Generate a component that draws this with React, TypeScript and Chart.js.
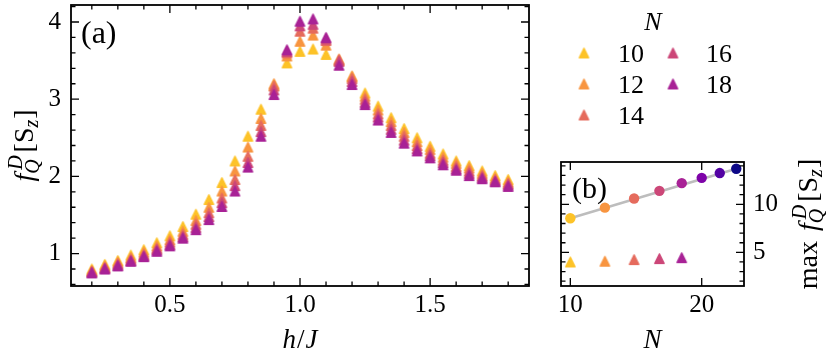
import React, { useEffect, useRef } from "react";
import { Chart, registerables } from "chart.js";
Chart.register(...registerables);

// ---------------- data ----------------
const hValues = [0.2, 0.25, 0.3, 0.35, 0.4, 0.45, 0.5, 0.55, 0.6, 0.65, 0.7, 0.75, 0.8, 0.85, 0.9, 0.95, 1.0, 1.05, 1.1, 1.15, 1.2, 1.25, 1.3, 1.35, 1.4, 1.45, 1.5, 1.55, 1.6, 1.65, 1.7, 1.75, 1.8];
const sizesN = [10, 12, 14, 16, 18];
const fqN10 = [0.80, 0.86, 0.91, 0.98, 1.05, 1.14, 1.23, 1.35, 1.51, 1.70, 1.92, 2.20, 2.52, 2.87, 3.18, 3.47, 3.62, 3.65, 3.58, 3.50, 3.29, 3.08, 2.91, 2.76, 2.62, 2.50, 2.39, 2.29, 2.20, 2.14, 2.07, 2.01, 1.96];
const fqN12 = [0.78, 0.84, 0.89, 0.95, 1.02, 1.10, 1.18, 1.29, 1.43, 1.60, 1.81, 2.07, 2.38, 2.75, 3.20, 3.56, 3.75, 3.83, 3.70, 3.52, 3.30, 3.04, 2.86, 2.71, 2.57, 2.45, 2.35, 2.25, 2.17, 2.11, 2.04, 1.98, 1.93];
const fqN14 = [0.77, 0.82, 0.87, 0.93, 0.99, 1.07, 1.15, 1.25, 1.38, 1.53, 1.72, 1.96, 2.26, 2.66, 3.17, 3.60, 3.88, 3.92, 3.76, 3.51, 3.27, 3.00, 2.81, 2.66, 2.52, 2.40, 2.30, 2.21, 2.13, 2.07, 2.01, 1.96, 1.91];
const fqN16 = [0.76, 0.81, 0.85, 0.91, 0.97, 1.05, 1.12, 1.22, 1.34, 1.48, 1.66, 1.88, 2.18, 2.58, 3.12, 3.62, 3.95, 3.97, 3.78, 3.49, 3.23, 2.96, 2.77, 2.61, 2.47, 2.36, 2.27, 2.18, 2.10, 2.04, 1.99, 1.94, 1.89];
const fqN18 = [0.75, 0.80, 0.84, 0.90, 0.96, 1.03, 1.10, 1.20, 1.31, 1.44, 1.61, 1.81, 2.12, 2.52, 3.06, 3.64, 4.01, 4.04, 3.80, 3.44, 3.19, 2.93, 2.73, 2.57, 2.43, 2.33, 2.24, 2.15, 2.08, 2.01, 1.97, 1.93, 1.87];
const seriesColors = ["#fdc328", "#f89540", "#e56b5d", "#cc4778", "#a82296"];

const insetN = [10, 12, 14, 16, 18, 20, 22, 24];
const insetMaxFQ = [8.55, 9.65, 10.6, 11.4, 12.2, 12.75, 13.25, 13.7];
const insetColors = ["#fdc328", "#f89540", "#e56b5d", "#cc4778", "#a82296", "#7e03a8", "#5302a3", "#0d0887"];
const insetTriN = [10, 12, 14, 16, 18];
const insetTriMax = [4.0, 4.08, 4.25, 4.35, 4.45];
const fitN = [10, 24];
const fitMax = [8.55, 13.7];

const mainXTicks = [0.5, 1.0, 1.5];
const mainYTicks = [1, 2, 3, 4];
const insetXTicks = [10, 20];
const insetYTicks = [5, 10];

// ---------------- helpers ----------------
const FAMILY = '"Liberation Serif"';
const FONT = '"Liberation Serif", "DejaVu Serif", serif';

function triangleImg(color: string) {
  const s = 13;
  const c = document.createElement("canvas");
  c.width = s;
  c.height = s;
  const g = c.getContext("2d")!;
  g.fillStyle = color;
  g.strokeStyle = color;
  g.lineJoin = "round";
  g.lineWidth = 1.4;
  const cx = s / 2, cy = s / 2, h = 4.7;
  g.beginPath();
  g.moveTo(cx, cy - h);
  g.lineTo(cx + h, cy + h);
  g.lineTo(cx - h, cy + h);
  g.closePath();
  g.fill();
  g.stroke();
  return c;
}

type Seg = { t: string; it?: boolean; size: number; dy?: number; dx?: number; overlay?: boolean };

function drawRich(ctx: CanvasRenderingContext2D, segs: Seg[], x: number, y: number, angle: number) {
  let xpos = 0, lastStart = 0, lastW = 0;
  const placed: { s: Seg; x: number }[] = [];
  for (const s of segs) {
    ctx.font = `${s.it ? "italic " : ""}${s.size}px ${FONT}`;
    const w = ctx.measureText(s.t).width;
    if (s.overlay) {
      const st = lastStart + (s.dx || 0);
      placed.push({ s, x: st });
      xpos = Math.max(lastStart + lastW, st + w);
      lastW = Math.max(lastW, st + w - lastStart);
    } else {
      const st = xpos + (s.dx || 0);
      placed.push({ s, x: st });
      lastStart = st;
      lastW = w;
      xpos = st + w;
    }
  }
  ctx.save();
  ctx.translate(x, y);
  ctx.rotate(angle);
  ctx.fillStyle = "#000";
  ctx.textBaseline = "alphabetic";
  ctx.textAlign = "left";
  for (const p of placed) {
    ctx.font = `${p.s.it ? "italic " : ""}${p.s.size}px ${FONT}`;
    ctx.fillText(p.s.t, p.x - xpos / 2, p.s.dy || 0);
  }
  ctx.restore();
}

const fqSegs: Seg[] = [
  { t: "f", it: true, size: 28 },
  { t: "Q", it: true, size: 20, dy: 6, dx: 0 },
  { t: "D", it: true, size: 20, dy: -11, dx: 4, overlay: true },
  { t: "[", size: 28, dx: 3 },
  { t: "S", size: 28 },
  { t: "z", it: true, size: 20, dy: 5 },
  { t: "]", size: 28, dx: 1 },
];

function drawTicks(ctx: CanvasRenderingContext2D, a: any, sx: any, sy: any, xMaj: number[], xMin: number[], yMaj: number[], yMin: number[], maj: number, mn: number) {
  ctx.save();
  ctx.strokeStyle = "#000";
  ctx.lineWidth = 1.3;
  ctx.beginPath();
  const xt = (v: number, L: number) => {
    const p = sx.getPixelForValue(v);
    if (p < a.left + 1 || p > a.right - 1) return;
    ctx.moveTo(p, a.bottom); ctx.lineTo(p, a.bottom - L);
    ctx.moveTo(p, a.top); ctx.lineTo(p, a.top + L);
  };
  const yt = (v: number, L: number) => {
    const p = sy.getPixelForValue(v);
    if (p < a.top + 1 || p > a.bottom - 1) return;
    ctx.moveTo(a.left, p); ctx.lineTo(a.left + L, p);
    ctx.moveTo(a.right, p); ctx.lineTo(a.right - L, p);
  };
  xMaj.forEach((v) => xt(v, maj));
  xMin.forEach((v) => xt(v, mn));
  yMaj.forEach((v) => yt(v, maj));
  yMin.forEach((v) => yt(v, mn));
  ctx.stroke();
  ctx.lineWidth = 1.8;
  ctx.strokeRect(a.left, a.top, a.right - a.left, a.bottom - a.top);
  ctx.restore();
}

function range(a: number, b: number, step: number) {
  const out: number[] = [];
  for (let v = a; v <= b + 1e-9; v += step) out.push(Math.round(v * 1000) / 1000);
  return out;
}

const tickFont = { family: FONT, size: 25 };
const noGrid = { display: false, drawTicks: false, tickLength: 0 };
const zeroPad = (s: any) => {
  s.paddingTop = 0;
  s.paddingBottom = 0;
  s.paddingLeft = 0;
  s.paddingRight = 0;
};

export default function App() {
  const mainRef = useRef<HTMLCanvasElement>(null);
  const insetRef = useRef<HTMLCanvasElement>(null);

  useEffect(() => {
    const series = [fqN10, fqN12, fqN14, fqN16, fqN18];
    const triImgs = seriesColors.map((c) => triangleImg(c));
    const insetTriImgs = insetTriN.map((_, i) => triangleImg(seriesColors[i]));

    const mainPlugin = {
      id: "mainDeco",
      afterDraw(chart: any) {
        const ctx = chart.ctx as CanvasRenderingContext2D;
        const a = chart.chartArea;
        const sx = chart.scales.x, sy = chart.scales.y;
        drawTicks(ctx, a, sx, sy, mainXTicks, range(0.2, 1.8, 0.1), mainYTicks, range(0.6, 4.2, 0.2), 8, 4.5);
        ctx.save();
        ctx.fillStyle = "#000";
        ctx.font = `32px ${FONT}`;
        ctx.textAlign = "left";
        ctx.fillText("(a)", 81, 43);
        ctx.restore();
        drawRich(ctx, [
          { t: "h", it: true, size: 27 },
          { t: "/", size: 27, dx: 1 },
          { t: "J", it: true, size: 27, dx: 1 },
        ], (a.left + a.right) / 2, 348, 0);
        drawRich(ctx, fqSegs, 33, (a.top + a.bottom) / 2, -Math.PI / 2);
        // legend
        ctx.save();
        ctx.fillStyle = "#000";
        ctx.font = `italic 26px ${FONT}`;
        ctx.textAlign = "center";
        ctx.fillText("N", 653, 30);
        const colX = [584, 673];
        const textX = [618, 706];
        const rowY = [53, 84, 115];
        sizesN.forEach((n, i) => {
          const col = i < 3 ? 0 : 1;
          const row = i < 3 ? i : i - 3;
          const img = triImgs[i];
          ctx.drawImage(img, colX[col] - img.width / 2, rowY[row] - img.height / 2);
          ctx.font = `26px ${FONT}`;
          ctx.textAlign = "left";
          ctx.fillStyle = "#000";
          ctx.fillText(String(n), textX[col], rowY[row] + 9);
        });
        ctx.restore();
      },
    };

    const mainChart = new Chart(mainRef.current!, {
      type: "scatter",
      data: {
        datasets: series.map((s, i) => ({
          label: `N=${sizesN[i]}`,
          data: hValues.map((h, j) => ({ x: h, y: s[j] })),
          pointStyle: triImgs[i] as any,
          pointRadius: 5,
          backgroundColor: seriesColors[i],
          borderColor: seriesColors[i],
          order: sizesN.length - i,
        })),
      },
      options: {
        responsive: false,
        animation: false,
        devicePixelRatio: 1,
        layout: { autoPadding: false, padding: { left: 0, top: 5, right: 301, bottom: 0 } },
        plugins: { legend: { display: false }, tooltip: { enabled: false } },
        scales: {
          x: {
            type: "linear",
            min: 0.12,
            max: 1.88,
            afterBuildTicks: (s: any) => { s.ticks = mainXTicks.map((v) => ({ value: v })); },
            afterFit: (s: any) => { s.height = 72; zeroPad(s); },
            ticks: {
              callback: (v: any) => Number(v).toFixed(1),
              font: tickFont,
              color: "#000",
              padding: 4,
              maxRotation: 0,
            },
            grid: noGrid,
            border: { display: false },
          },
          y: {
            type: "linear",
            min: 0.58,
            max: 4.22,
            afterBuildTicks: (s: any) => { s.ticks = mainYTicks.map((v) => ({ value: v })); },
            afterFit: (s: any) => { s.width = 71; zeroPad(s); },
            ticks: {
              callback: (v: any) => String(v),
              font: tickFont,
              color: "#000",
              padding: 10,
            },
            grid: noGrid,
            border: { display: false },
          },
        },
      },
      plugins: [mainPlugin],
    });

    const insetPlugin = {
      id: "insetDeco",
      afterDraw(chart: any) {
        const ctx = chart.ctx as CanvasRenderingContext2D;
        const a = chart.chartArea;
        drawTicks(ctx, a, chart.scales.x, chart.scales.y, insetXTicks, [], insetYTicks, range(2, 14, 1), 8, 4.5);
        ctx.save();
        ctx.fillStyle = "#000";
        ctx.font = `30px ${FONT}`;
        ctx.textAlign = "left";
        ctx.fillText("(b)", 27, 48);
        ctx.restore();
        drawRich(ctx, [{ t: "N", it: true, size: 27 }], (a.left + a.right) / 2, 198, 0);
        drawRich(ctx, [{ t: "max ", size: 28 }, ...fqSegs.map((s, i) => (i === 0 ? { ...s, dx: 3 } : s))], 272, 74, -Math.PI / 2);
      },
    };

    const insetChart = new Chart(insetRef.current!, {
      type: "scatter",
      data: {
        datasets: [
          {
            label: "maxFQ",
            data: insetN.map((n, i) => ({ x: n, y: insetMaxFQ[i] })),
            pointStyle: "circle",
            pointRadius: 5.2,
            borderWidth: 0,
            backgroundColor: insetColors,
            order: 1,
          } as any,
          {
            label: "triangles",
            data: insetTriN.map((n, i) => ({ x: n, y: insetTriMax[i] })),
            pointStyle: insetTriImgs as any,
            pointRadius: 5,
            order: 1,
          } as any,
          {
            type: "line",
            label: "fit",
            data: fitN.map((n, i) => ({ x: n, y: fitMax[i] })),
            borderColor: "#bdbdbd",
            borderWidth: 2.5,
            pointRadius: 0,
            showLine: true,
            order: 3,
          } as any,
        ],
      },
      options: {
        responsive: false,
        animation: false,
        devicePixelRatio: 1,
        layout: { autoPadding: false, padding: { left: 16, top: 12, right: 0, bottom: 0 } },
        plugins: { legend: { display: false }, tooltip: { enabled: false } },
        scales: {
          x: {
            type: "logarithmic",
            min: 9.52,
            max: 25.0,
            afterBuildTicks: (s: any) => { s.ticks = insetXTicks.map((v) => ({ value: v })); },
            afterFit: (s: any) => { s.height = 72; zeroPad(s); },
            ticks: {
              callback: (v: any) => String(v),
              font: tickFont,
              color: "#000",
              padding: 4,
              maxRotation: 0,
              autoSkip: false,
            },
            grid: noGrid,
            border: { display: false },
          },
          y: {
            type: "linear",
            position: "right",
            min: 1.5,
            max: 14.4,
            afterBuildTicks: (s: any) => { s.ticks = insetYTicks.map((v) => ({ value: v })); },
            afterFit: (s: any) => { s.width = 86; zeroPad(s); },
            ticks: {
              callback: (v: any) => String(v),
              font: tickFont,
              color: "#000",
              padding: 9,
            },
            grid: noGrid,
            border: { display: false },
          },
        },
      },
      plugins: [insetPlugin],
    });

    let alive = true;
    if ((document as any).fonts && (document as any).fonts.load) {
      Promise.all([
        (document as any).fonts.load(`25px ${FAMILY}`),
        (document as any).fonts.load(`italic 25px ${FAMILY}`),
      ]).then(() => {
        if (!alive) return;
        mainChart.update("none");
        insetChart.update("none");
      }).catch(() => {});
    }

    return () => {
      alive = false;
      mainChart.destroy();
      insetChart.destroy();
    };
  }, []);

  return (
    <div style={{ position: "absolute", left: 0, top: 0, width: 830, height: 358, background: "#fff", fontFamily: FONT }}>
      <span style={{ position: "absolute", left: -1000, top: 0, fontFamily: FONT }}>0 <i>N</i></span>
      <canvas ref={mainRef} width={830} height={358} style={{ position: "absolute", left: 0, top: 0, width: 830, height: 358 }} />
      <canvas ref={insetRef} width={285} height={208} style={{ position: "absolute", left: 545, top: 150, width: 285, height: 208 }} />
    </div>
  );
}
